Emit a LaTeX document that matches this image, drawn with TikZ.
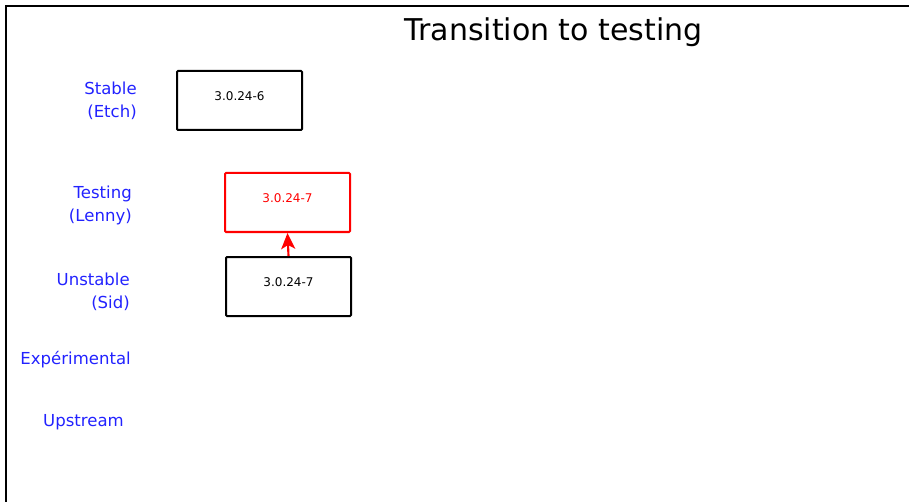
\documentclass[tikz,border=0pt]{standalone}
\usepackage{fontspec}
\setmainfont{DejaVu Sans}
\usetikzlibrary{arrows.meta}
\definecolor{suiteblue}{RGB}{34,34,255}
\definecolor{migred}{RGB}{255,0,0}

\begin{document}
\begin{tikzpicture}[x=0.75pt,y=-0.75pt,
  suite/.style={text=suiteblue,font=\fontsize{12.4}{17.25}\selectfont,align=right,anchor=east,inner sep=0pt},
  pkgbox/.style={draw,line width=1.5pt,rounded corners=0.8pt,minimum width=93.75pt,minimum height=44.25pt,inner sep=0pt,text depth=6pt,font=\fontsize{9}{11}\selectfont}]
\useasboundingbox (0,0) rectangle (909,502);
% frame
\draw[line width=2pt] (6,502) -- (6,6) -- (909,6);
\node[font=\fontsize{22.5}{26}\selectfont,anchor=base,inner sep=0pt] (title) at (553.5,41) {Transition to testing};
% suites
\node[suite] (stable) at (137,100.5) {Stable\\(Etch)};
\node[suite] (testing) at (132,205.5) {Testing\\(Lenny)};
\node[suite] (unstable) at (130,291.5) {Unstable\\(Sid)};
\node[suite] (exp) at (131,360) {Expérimental};
\node[suite] (upstream) at (124,422) {Upstream};
% packages
\node[pkgbox] (pstable) at (239.5,100.5) {3.0.24-6};
\node[pkgbox,draw=migred,text=migred] (ptesting) at (287.5,202.5) {3.0.24-7};
\node[pkgbox] (punstable) at (288.5,286.5) {3.0.24-7};
\draw[-{Stealth[length=12pt,width=10.5pt,inset=3pt]},draw=migred,fill=migred,line width=1.6pt] (punstable.north) -- (ptesting.south);
\end{tikzpicture}
\end{document}
